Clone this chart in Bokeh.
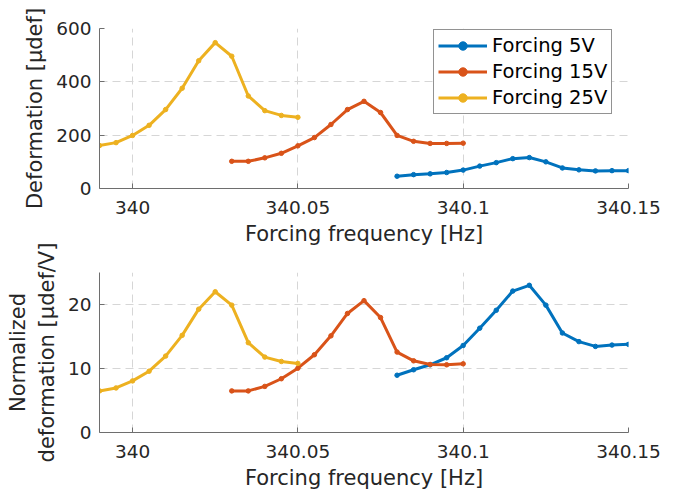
from bokeh.plotting import figure
from bokeh.layouts import column
from bokeh.models import FixedTicker, Range1d, Legend, LegendItem
from bokeh.embed import file_html
from bokeh.resources import INLINE

# ---- data ----
freq_25 = [339.99, 339.995, 340.0, 340.005, 340.01, 340.015, 340.02, 340.025, 340.03, 340.035, 340.04, 340.045, 340.05]
freq_15 = [340.03, 340.035, 340.04, 340.045, 340.05, 340.055, 340.06, 340.065, 340.07, 340.075, 340.08, 340.085, 340.09, 340.095, 340.1]
freq_5 = [340.08, 340.085, 340.09, 340.095, 340.1, 340.105, 340.11, 340.115, 340.12, 340.125, 340.13, 340.135, 340.14, 340.145, 340.15]

def_25 = [161, 172, 199, 237, 296, 376, 479, 547, 496, 347, 292, 274, 267]
def_15 = [102, 102, 115, 132, 160, 191, 240, 296, 327, 285, 199, 177, 169, 169, 170]
def_5 = [46, 52, 55, 60, 69, 84, 97, 112, 116, 100, 77, 70, 66, 67, 67]

norm_25 = [6.5, 6.96, 8.06, 9.58, 11.94, 15.18, 19.27, 21.99, 19.9, 14.03, 11.78, 11.1, 10.79]
norm_15 = [6.5, 6.5, 7.2, 8.4, 10.05, 12.15, 15.1, 18.6, 20.6, 17.96, 12.57, 11.2, 10.63, 10.58, 10.73]
norm_5 = [8.95, 9.8, 10.58, 11.68, 13.6, 16.3, 19.1, 22.1, 23.0, 19.9, 15.55, 14.2, 13.45, 13.66, 13.77]

x_ticks = [340.0, 340.05, 340.1, 340.15]
x_tick_labels = ["340", "340.05", "340.1", "340.15"]
top_y_ticks = [0, 200, 400, 600]
bot_y_ticks = [0, 10, 20]

series_names = ["Forcing 5V", "Forcing 15V", "Forcing 25V"]
colors = ["#0072BD", "#D95319", "#EDB120"]

FONT = "DejaVu Sans"
TEXT_COLOR = "#262626"
AXIS_COLOR = "#6e6e6e"


def style(p, yticks, ylabel):
    p.xaxis.ticker = FixedTicker(ticks=x_ticks)
    p.xaxis.major_label_overrides = dict(zip(x_ticks, x_tick_labels))
    p.yaxis.ticker = FixedTicker(ticks=yticks)
    p.xgrid.ticker = FixedTicker(ticks=x_ticks)
    p.ygrid.ticker = FixedTicker(ticks=yticks)
    for ax in (p.xaxis[0], p.yaxis[0]):
        ax.major_tick_in = 5
        ax.major_tick_out = 0
        ax.minor_tick_in = 0
        ax.minor_tick_out = 0
        ax.axis_line_color = AXIS_COLOR
        ax.major_tick_line_color = AXIS_COLOR
        ax.major_label_text_font = FONT
        ax.major_label_text_font_size = "18.5px"
        ax.major_label_text_color = TEXT_COLOR
        ax.axis_label_text_font = FONT
        ax.axis_label_text_font_size = "21px"
        ax.axis_label_text_font_style = "normal"
        ax.axis_label_text_color = TEXT_COLOR
    p.xaxis.axis_label = "Forcing frequency [Hz]"
    p.xaxis.major_label_standoff = 12
    p.xaxis.axis_label_standoff = 5
    p.yaxis.axis_label = ylabel
    p.yaxis.major_label_standoff = 8
    p.yaxis.axis_label_standoff = 6
    for g in (p.xgrid[0], p.ygrid[0]):
        g.grid_line_color = "#d6d6d6"
        g.grid_line_dash = "8 5"
        g.grid_line_width = 1
    p.outline_line_color = None
    p.background_fill_color = "white"


# ---- top figure ----
p1 = figure(width=676, height=252, output_backend="svg", toolbar_location=None,
            x_range=Range1d(339.99, 340.15), y_range=Range1d(0, 600),
            min_border_left=99, min_border_right=48, min_border_top=28, min_border_bottom=64)
style(p1, top_y_ticks, "Deformation [μdef]")
p1.border_fill_color = "white"

items = []
for name, xs, ys, c in zip(series_names, [freq_5, freq_15, freq_25], [def_5, def_15, def_25], colors):
    r1 = p1.line(xs, ys, line_color=c, line_width=3)
    r2 = p1.scatter(xs, ys, size=4.5, fill_color=c, line_color=c)
    items.append(LegendItem(label=name, renderers=[r1, r2]))

legend = Legend(items=items, location=(334, 74))
legend.label_text_font = FONT
legend.label_text_font_size = "19.5px"
legend.label_text_color = "black"
legend.glyph_width = 49
legend.glyph_height = 21
legend.label_height = 21
legend.label_standoff = 5
legend.spacing = 3
legend.padding = 4
legend.margin = 0
legend.border_line_color = "#262626"
legend.border_line_width = 1
legend.background_fill_alpha = 1
p1.add_layout(legend, "center")

# ---- bottom figure (overlaps the top figure's bottom border slightly, transparent border) ----
p2 = figure(width=676, height=253, output_backend="svg", toolbar_location=None,
            x_range=Range1d(339.99, 340.15), y_range=Range1d(0, 25),
            min_border_left=99, min_border_right=48, min_border_top=32, min_border_bottom=61)
style(p2, bot_y_ticks, "Normalized\ndeformation [μdef/V]")
p2.border_fill_color = None
p2.styles = {"margin-top": "-12px"}

for xs, ys, c in zip([freq_5, freq_15, freq_25], [norm_5, norm_15, norm_25], colors):
    p2.line(xs, ys, line_color=c, line_width=3)
    p2.scatter(xs, ys, size=4.5, fill_color=c, line_color=c)

layout = column(p1, p2, spacing=0)
open("out.html", "w").write(file_html(layout, INLINE))
